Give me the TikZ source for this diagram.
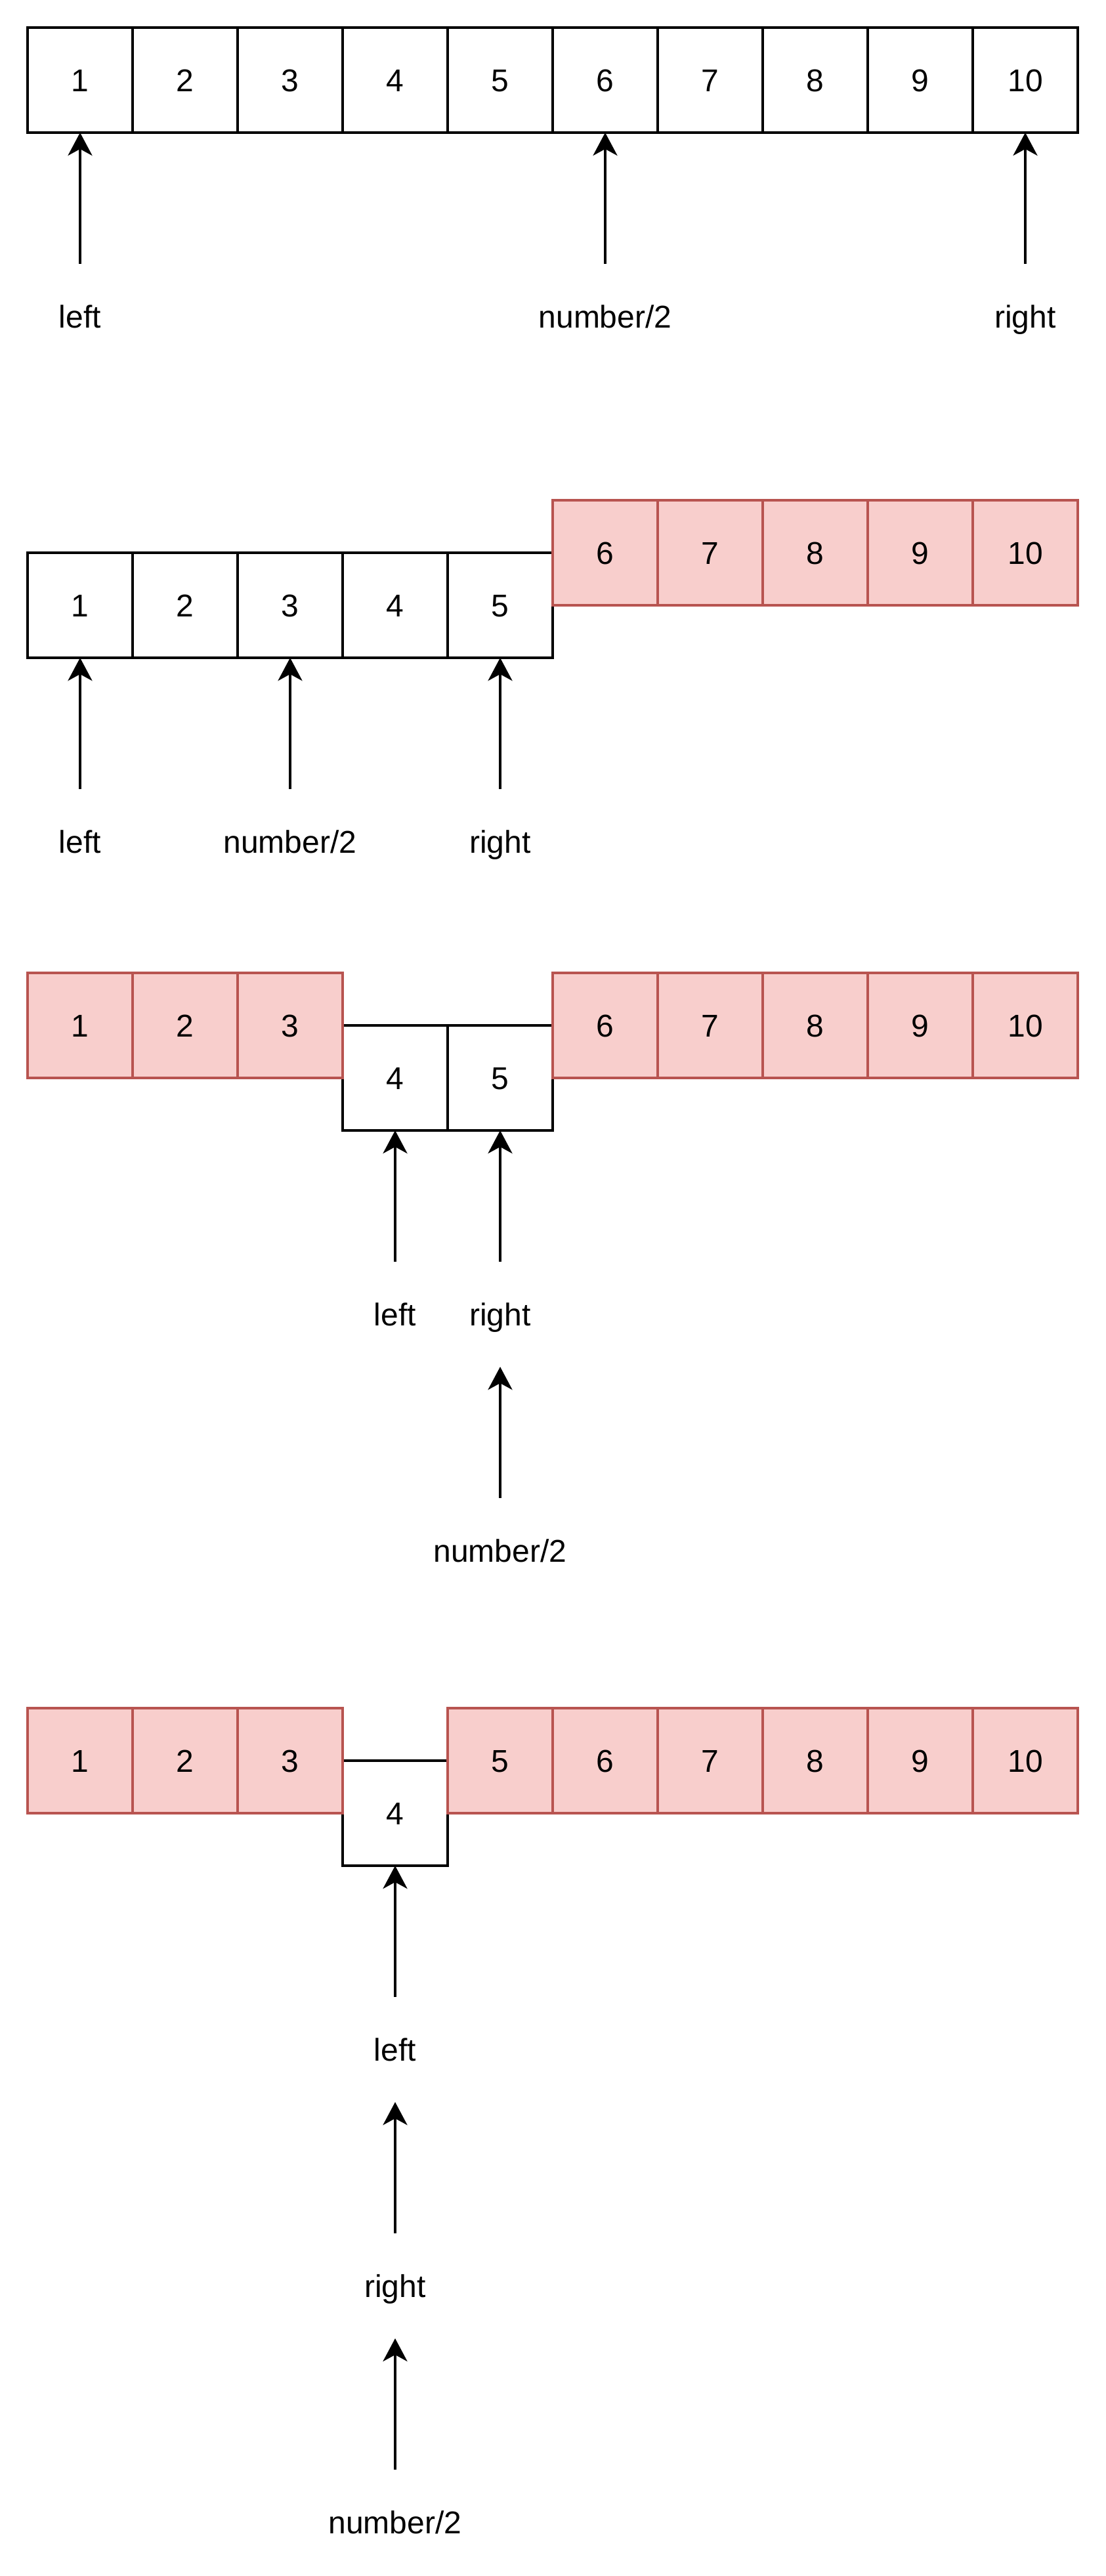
\documentclass[tikz,border=0pt]{standalone}
\usepackage{fontspec}
\setmainfont{Liberation Sans}
\usetikzlibrary{arrows.meta}
\definecolor{redfill}{HTML}{F8CECC}
\definecolor{redline}{HTML}{B85450}
\tikzset{
  cell/.style={rectangle, draw=black, fill=white, line width=1pt, minimum width=40pt, minimum height=40pt, inner sep=0pt, outer sep=0pt, text height=8.75pt, text depth=0pt, font=\fontsize{12pt}{14pt}\selectfont},
  gone/.style={cell, draw=redline, fill=redfill},
  lbl/.style={rectangle, minimum height=40pt, inner sep=0pt, outer sep=0pt, text height=8.75pt, text depth=0pt, font=\fontsize{12pt}{14pt}\selectfont},
  arr/.style={line width=1pt, -{Stealth[length=8.75pt,width=9.25pt,inset=2.5pt]}}
}
\begin{document}
\begin{tikzpicture}[x=1pt,y=1pt]
\useasboundingbox (0,0) rectangle (421,-981);
% ---------- Row 1 ----------
\foreach \i in {1,...,10} {
  \node[cell] (a\i) at ({30.5+40*(\i-1)},-30.5) {\i};
}
\node[lbl] (aL) at (30.5,-120.5) {left};
\node[lbl] (aM) at (230.5,-120.5) {number/2};
\node[lbl] (aR) at (390.5,-120.5) {right};
\draw[arr] (aL.north) -- (a1.south);
\draw[arr] (aM.north) -- (a6.south);
\draw[arr] (aR.north) -- (a10.south);
% ---------- Row 2 ----------
\foreach \i in {1,...,5} {
  \node[cell] (b\i) at ({30.5+40*(\i-1)},-230.5) {\i};
}
\foreach \i in {6,...,10} {
  \node[gone] (b\i) at ({30.5+40*(\i-1)},-210.5) {\i};
}
\node[lbl] (bL) at (30.5,-320.5) {left};
\node[lbl] (bM) at (110.5,-320.5) {number/2};
\node[lbl] (bR) at (190.5,-320.5) {right};
\draw[arr] (bL.north) -- (b1.south);
\draw[arr] (bM.north) -- (b3.south);
\draw[arr] (bR.north) -- (b5.south);
% ---------- Row 3 ----------
\foreach \i in {4,5} {
  \node[cell] (c\i) at ({30.5+40*(\i-1)},-410.5) {\i};
}
\foreach \i in {1,2,3,6,7,8,9,10} {
  \node[gone] (c\i) at ({30.5+40*(\i-1)},-390.5) {\i};
}
\node[lbl] (cL) at (150.5,-500.5) {left};
\node[lbl] (cR) at (190.5,-500.5) {right};
\node[lbl] (cM) at (190.5,-590.5) {number/2};
\draw[arr] (cL.north) -- (c4.south);
\draw[arr] (cR.north) -- (c5.south);
\draw[arr] (cM.north) -- (cR.south);
% ---------- Row 4 ----------
\node[cell] (d4) at (150.5,-690.5) {4};
\foreach \i in {1,2,3,5,6,7,8,9,10} {
  \node[gone] (d\i) at ({30.5+40*(\i-1)},-670.5) {\i};
}
\node[lbl] (dL) at (150.5,-780.5) {left};
\node[lbl] (dR) at (150.5,-870.5) {right};
\node[lbl] (dM) at (150.5,-960.5) {number/2};
\draw[arr] (dL.north) -- (d4.south);
\draw[arr] (dR.north) -- (dL.south);
\draw[arr] (dM.north) -- (dR.south);
\end{tikzpicture}
\end{document}
